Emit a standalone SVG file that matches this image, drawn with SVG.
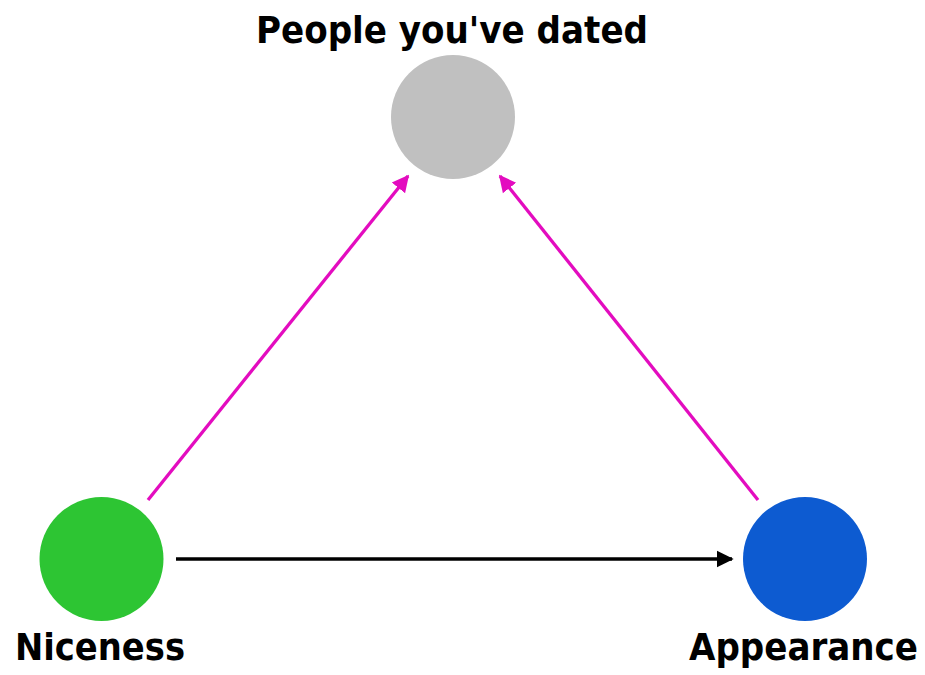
<svg xmlns="http://www.w3.org/2000/svg" width="925" height="675" viewBox="0 0 925 675">
<style>
.lbl{font-family:"DejaVu Sans Condensed","DejaVu Sans",sans-serif;font-weight:bold;font-stretch:condensed;font-size:38px;fill:#000}
.pink{stroke:#e30cbf;stroke-width:3.3;fill:none}
.blk{stroke:#000;stroke-width:3.3;fill:none}
</style>
<defs>
<marker id="ap" viewBox="0 0 10 10" refX="9" refY="5" markerWidth="17" markerHeight="20" markerUnits="userSpaceOnUse" orient="auto"><path d="M0,0L10,5L0,10z" fill="#e30cbf"/></marker>
<marker id="ab" viewBox="0 0 10 10" refX="9" refY="5" markerWidth="17" markerHeight="20" markerUnits="userSpaceOnUse" orient="auto"><path d="M0,0L10,5L0,10z" fill="#000"/></marker>
</defs>
<rect width="925" height="675" fill="#fff"/>
<g id="connectors">
<line class="pink" x1="148" y1="500" x2="408" y2="176" marker-end="url(#ap)"/>
<line class="pink" x1="758" y1="500" x2="500" y2="176" marker-end="url(#ap)"/>
<line class="blk" x1="176" y1="559" x2="732" y2="559" marker-end="url(#ab)"/>
</g>
<g id="dated">
<circle cx="453" cy="117" r="62" fill="#c0c0c0"/>
<text class="lbl" x="452" y="43" text-anchor="middle" textLength="392" lengthAdjust="spacingAndGlyphs">People you've dated</text>
</g>
<g id="niceness">
<circle cx="101.5" cy="559" r="62" fill="#2dc533"/>
<text class="lbl" x="15" y="660" textLength="170" lengthAdjust="spacingAndGlyphs">Niceness</text>
</g>
<g id="appearance">
<circle cx="805" cy="559" r="62" fill="#0d5bd1"/>
<text class="lbl" x="689" y="660" textLength="229" lengthAdjust="spacingAndGlyphs">Appearance</text>
</g>
</svg>
